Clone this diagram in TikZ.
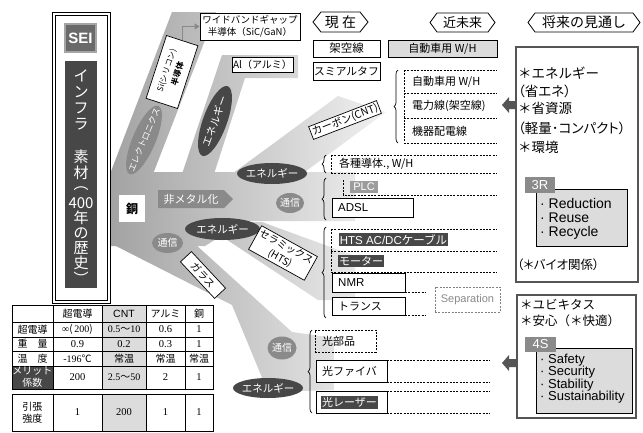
\documentclass[tikz,border=0pt]{standalone}
\usepackage{fontspec}
\setmainfont{Noto Sans CJK JP}
\newfontfamily\lat{Liberation Sans}
\newfontfamily\ser{Liberation Serif}
\newfontfamily\jpp[RawFeature=+palt]{Noto Sans CJK JP}
\usetikzlibrary{shapes.geometric,decorations.pathreplacing,arrows.meta}
\definecolor{dk}{HTML}{474747}
\definecolor{md}{HTML}{8A8A8A}
\definecolor{lg}{HTML}{9C9C9C}
\definecolor{gbox}{HTML}{DCDCDC}
\definecolor{bandA}{HTML}{A2A2A2}
\definecolor{bandM}{HTML}{CFCFCF}
\definecolor{bandB}{HTML}{F3F3F3}
\definecolor{frame}{HTML}{555555}
\definecolor{seiF}{HTML}{6A6A6A}
\definecolor{seiD}{HTML}{A5A5A5}
\newcommand\fsz[2]{\fontsize{#1}{#2}\selectfont}
\newcommand\bandfill[1]{\begin{scope}\clip #1;\shade[left color=bandA,middle color=bandM,right color=bandB] (108,0) rectangle (392,432);\end{scope}}
\tikzset{
 ovalshape/.style={ellipse, inner sep=0},
 ovaltext/.style={inner sep=0, text=white, font=\fsz{10.5}{12}},
 tagbox/.style={draw, fill=white, line width=0.7, inner sep=1.5, align=center},
 sbox/.style={draw, line width=0.8, fill=white, inner sep=0},
 txt/.style={inner sep=0, anchor=west, font=\fsz{11}{13}},
 dsh/.style={dash pattern=on 2pt off 1.3pt, line width=0.8},
 lbl/.style={inner sep=1.2, text=white, font=\fsz{11}{12}},
 brc/.style={decorate, decoration={brace, amplitude=4pt}, line width=0.7},
 vch/.style={inner sep=0, text=white, font=\fsz{15}{15}},
 cell/.style={inner sep=0, font=\fsz{10}{11.5}, align=center},
 num/.style={inner sep=0, font=\ser\fsz{10.5}{12}},
 hexl/.style={inner sep=0},
 tag/.style={text=white, inner sep=0},
}
\begin{document}
\begin{tikzpicture}[x=1pt,y=-1pt]
\fill[white] (0,0) rectangle (643,432);
\useasboundingbox (0,0) rectangle (643,432);

% ---------- gray tree ----------
\bandfill{(110,172) -- (355,172) -- (355,221) -- (245,221) -- (205,246) -- (110,246) -- cycle}
\bandfill{(110,174) -- (172,12) -- (216,12) -- (153,174) -- cycle}
\bandfill{(182,174) -- (222,55) -- (298,55) -- (298,78) -- (245,78) -- (214,174) -- cycle}
\bandfill{(232,174) -- (338,96) -- (386,112) -- (302,174) -- cycle}
\bandfill{(200,222) -- (262,222) -- (355,256) -- (355,300) -- (318,300) -- cycle}
\bandfill{(112,244) -- (195,244) -- (292,332) -- (334,338) -- (334,390) -- (268,392) -- (232,305) -- cycle}

% ---------- left panel ----------
\draw[line width=0.8] (52,12) rectangle (110,303);
\draw[line width=0.8] (55,15) rectangle (107,300);
\node[fill=seiF, draw=seiD, line width=2, minimum width=31, minimum height=28, inner sep=0, text=white, font=\lat\bfseries\fsz{15}{16}] (sei) at (80.5,38) {SEI};
\node[fill=dk, minimum width=32, minimum height=227, inner sep=0] (infra) at (81,174.5) {};
\foreach \c/\y [count=\i] in {イ/76,ン/92,フ/108,ラ/124,素/157,材/173,︵/189,400/203,年/218,の/233,歴/248,史/263,︶/278}
  \node[vch] (v\i) at (81,\y) {\c};

% ---------- branch labels ----------
\node[sbox, minimum width=100, minimum height=27, align=center, font=\fsz{9.5}{11.5}] (wb) at (250,26.5) {ワイドバンドギャップ\\半導体（SiC/GaN）};
\node[tagbox, rotate=72, font=\fsz{8}{11.5}, minimum width=66, minimum height=33] (si) at (172,72) {Si(シリコン)\\{\bfseries 半導体}};
\draw[md, line width=1.6, -{Triangle[length=5pt,width=6pt]}] (si.east) |- (wb.west);
\node[sbox, minimum width=61, minimum height=15, font=\fsz{10}{12}] (al) at (262.5,64.5) {Al（アルミ）};

\node[ovalshape, fill=md, rotate=67, minimum width=74, minimum height=23] (elec) at (144,140) {};
\node[ovaltext, rotate=67, font=\fsz{8.5}{10}] (elect) at (elec.center) {エレクトロニクス};
\node[ovalshape, fill=dk, rotate=70, minimum width=74, minimum height=24] (en1) at (215,121) {};
\node[ovaltext, rotate=70] (en1t) at (en1.center) {エネルギー};
\node[ovalshape, fill=dk, minimum width=70, minimum height=21] (en2) at (272,173.5) {};
\node[ovaltext] (en2t) at (en2.center) {エネルギー};
\node[ovalshape, fill=md, minimum width=28, minimum height=20] (tsu1) at (290,203) {};
\node[ovaltext, font=\fsz{10}{12}] (tsu1t) at (tsu1.center) {通信};
\fill[md] (158,190) -- (224,190) -- (233,199) -- (224,208) -- (158,208) -- cycle;
\node[lbl] (nonmetal) at (191,199) {非メタル化};
\node[fill=white, minimum width=26, minimum height=27, inner sep=0, font=\bfseries\fsz{12}{14}] (cu) at (132,208.5) {銅};
\node[ovalshape, fill=dk, minimum width=75, minimum height=22] (en3) at (222.5,229) {};
\node[ovaltext] (en3t) at (en3.center) {エネルギー};
\node[ovalshape, fill=md, minimum width=31, minimum height=20] (tsu2) at (167.5,243) {};
\node[ovaltext, font=\fsz{10}{12}] (tsu2t) at (tsu2.center) {通信};
\node[tagbox, rotate=21, font=\fsz{10.5}{12}] (cnt) at (345,120) {カーボン(CNT)};
\node[tagbox, rotate=-29, font=\fsz{10}{13}, inner sep=2] (cer) at (283,253) {セラミックス\\(HTS)};
\node[tagbox, rotate=-47, font=\fsz{10}{12}, minimum width=50, minimum height=15] (glass) at (203,275) {ガラス};
\node[ovalshape, fill=md, minimum width=29, minimum height=23] (tsu3) at (282,348) {};
\node[ovaltext, font=\fsz{10}{12}] (tsu3t) at (tsu3.center) {通信};
\node[ovalshape, fill=dk, minimum width=70, minimum height=20] (en4) at (268,388) {};
\node[ovaltext] (en4t) at (en4.center) {エネルギー};

% ---------- headers ----------
\draw[line width=0.8] (313,22) -- (321,12) -- (360,12) -- (368,22) -- (360,32) -- (321,32) -- cycle;
\node[hexl, font=\fsz{14}{16}] (now) at (340.5,22) {現 在};
\draw[line width=0.8] (430,22.5) -- (437,13) -- (488,13) -- (495,22.5) -- (488,32) -- (437,32) -- cycle;
\node[hexl, font=\fsz{13}{15}] (near) at (462.5,22.5) {近未来};
\draw[line width=0.8] (528,22.5) -- (535,13) -- (633,13) -- (640,22.5) -- (633,32) -- (535,32) -- cycle;
\node[hexl, font=\fsz{14}{16}] (future) at (584,22.5) {将来の見通し};

% ---------- present / near future rows ----------
\node[sbox, minimum width=67, minimum height=17, font=\fsz{11.5}{13}] (kaku) at (346.5,48.5) {架空線};
\node[sbox, fill=gbox, minimum width=109, minimum height=17, font=\fsz{11}{13}] (auto1) at (442.5,48.5) {自動車用 W/H};
\node[sbox, minimum width=67, minimum height=18, font=\fsz{10.8}{13}] (sumi) at (346.5,71) {スミアルタフ};

\draw[dsh] (404,70) -- (497,70) (404,93) -- (497,93) (404,118) -- (497,118) (404,143) -- (497,143) (404,70) -- (404,143);
\draw[brc] (398,143) -- (398,70);
\node[txt] (auto2) at (412,82) {自動車用 W/H};
\node[txt] (power) at (412,106) {電力線(架空線)};
\node[txt] (kiki) at (412,131) {機器配電線};

\draw[brc] (326,173) -- (326,155);
\draw[dsh] (331,155) -- (497,155) (331,173) -- (497,173) (331,155) -- (331,173);
\node[txt] (kakushu) at (339,164) {各種導体., W/H};

\draw[brc] (326,220) -- (326,178);
\draw[dsh] (343,180) -- (343,195) -- (497,195);
\node[fill=lg, tag, minimum width=28, minimum height=12, font=\lat\fsz{11}{12}] (plc) at (364,186.5) {PLC};
\node[sbox, minimum width=81, minimum height=19] (adsl) at (372.5,207.5) {};
\node[txt, font=\lat\fsz{11.5}{13}] (adslt) at (338,207.5) {ADSL};

\draw[brc] (326,318) -- (326,227);
\draw[dsh] (331,229) -- (497,229) (331,251) -- (497,251) (331,272) -- (497,272) (331,229) -- (331,273);
\node[fill=dk, lbl, font=\fsz{11.5}{13}] (hts) at (393.5,239.5) {{\lat HTS AC/DC}ケーブル};
\node[fill=dk, lbl] (motor) at (361,261) {モーター};
\node[sbox, minimum width=73, minimum height=19] (nmr) at (368.5,282.5) {};
\node[txt, font=\lat\fsz{11.5}{13}] (nmrt) at (338,282.5) {NMR};
\node[sbox, minimum width=73, minimum height=18] (trans) at (368.5,306) {};
\node[txt] (transt) at (338,306) {トランス};
\draw[dsh] (405,292) -- (425,292) (405,315) -- (425,315);
\node[draw=gray, dsh, minimum width=65, minimum height=25, text=md, font=\lat\fsz{11}{13}, inner sep=0] (sep) at (467.5,299.5) {Separation};

\draw[brc] (312,413) -- (312,330);
\node[draw, dsh, minimum width=61, minimum height=22, inner sep=0] (hikari) at (345.5,341) {};
\node[txt] (hikarit) at (322,341) {光部品};
\node[sbox, minimum width=71, minimum height=22] (fiber) at (351.5,371) {};
\node[txt] (fibert) at (322,371) {光ファイバ};
\draw[dsh] (387,360) -- (490,360) (387,382) -- (490,382);
\node[sbox, minimum width=71, minimum height=22] (laser) at (351.5,402) {};
\node[fill=dk, lbl] (lasert) at (349.5,402.5) {光レーザー};
\draw[dsh] (387,391) -- (490,391) (387,413) -- (490,413);

% ---------- future boxes ----------
\fill[frame] (502,105) -- (509,97) -- (509,101) -- (516,101) -- (516,109) -- (509,109) -- (509,113) -- cycle;
\draw[frame, line width=2.5] (516,47) rectangle (638,282);
\node[txt, font=\fsz{13.5}{15}] (b1a) at (518,73) {＊エネルギー};
\node[txt, font=\jpp\fsz{13.5}{15}] (b1b) at (518,91) {（省エネ）};
\node[txt, font=\fsz{13.5}{15}] (b1c) at (518,108) {＊省資源};
\node[txt, font=\jpp\fsz{13.5}{15}] (b1d) at (518,128) {（軽量･コンパクト）};
\node[txt, font=\fsz{13.5}{15}] (b1e) at (518,147) {＊環境};
\node[draw, fill=gbox, line width=0.8, minimum width=91, minimum height=57, inner sep=0] (r3box) at (581.5,217.5) {};
\node[fill=md, tag, minimum width=30, minimum height=16, font=\lat\fsz{13}{14}] (r3) at (540,185) {3R};
\node[txt, font=\lat\fsz{14}{15}] (red) at (540,203) {· Reduction};
\node[txt, font=\lat\fsz{14}{15}] (reuse) at (540,218) {· Reuse};
\node[txt, font=\lat\fsz{14}{15}] (recy) at (540,233) {· Recycle};
\node[txt, font=\jpp\fsz{12.5}{14}] (bio) at (517,265) {（＊バイオ関係）};

\fill[frame] (502,363) -- (509,355) -- (509,359) -- (517,359) -- (517,367) -- (509,367) -- (509,371) -- cycle;
\draw[frame, line width=2.5] (517,295) rectangle (636,418);
\node[txt, font=\fsz{12.5}{14}] (ubi) at (520,305) {＊ユビキタス};
\node[txt, font=\fsz{12.5}{14}] (anshin) at (520,321) {＊安心（＊快適）};
\node[draw, fill=gbox, line width=0.8, minimum width=96, minimum height=65, inner sep=0] (s4box) at (584,380.5) {};
\node[fill=md, tag, minimum width=31, minimum height=15, font=\lat\fsz{13}{14}] (s4) at (540.5,344.5) {4S};
\node[txt, font=\lat\fsz{13}{14}] (saf) at (540,360) {· Safety};
\node[txt, font=\lat\fsz{13}{14}] (sec) at (540,372.5) {· Security};
\node[txt, font=\lat\fsz{13}{14}] (sta) at (540,385) {· Stability};
\node[txt, font=\lat\fsz{13}{14}] (sus) at (540,397.5) {· Sustainability};

% ---------- table ----------
\fill[gbox] (102,305) rectangle (146,389);
\fill[gbox] (102,394) rectangle (146,431);
\fill[dk] (12,366) rectangle (53,389);
\draw[line width=0.6] (12,322) -- (213,322) (12,337) -- (213,337) (12,351) -- (213,351) (12,366) -- (213,366)
  (53,305) -- (53,389) (102,305) -- (102,389) (146,305) -- (146,389) (185,305) -- (185,389)
  (53,394) -- (53,431) (102,394) -- (102,431) (146,394) -- (146,431) (185,394) -- (185,431);
\draw[line width=1] (12,305) rectangle (213,389) (12,394) rectangle (213,431);
\node[cell] (h1) at (77.5,313.5) {超電導};
\node[cell, font=\lat\fsz{10.5}{12}] (h2) at (124,313.5) {CNT};
\node[cell] (h3) at (165.5,313.5) {アルミ};
\node[cell] (h4) at (199,313.5) {銅};
\node[cell] (r1) at (32.5,329.5) {超電導};
\node[cell] (c11) at (77.5,329.5) {{\ser ∞}(\,{\ser 200})};
\node[cell] (c12) at (124,329.5) {{\ser 0.5}～{\ser 10}};
\node[num] (c13) at (165.5,329.5) {0.6};
\node[num] (c14) at (199,329.5) {1};
\node[cell] (r2) at (32.5,344) {重　量};
\node[num] (c21) at (77.5,344) {0.9};
\node[num] (c22) at (124,344) {0.2};
\node[num] (c23) at (165.5,344) {0.3};
\node[num] (c24) at (199,344) {1};
\node[cell] (r3c) at (32.5,358.5) {温　度};
\node[cell] (c31) at (77.5,358.5) {{\ser -196}℃};
\node[cell] (c32) at (124,358.5) {常温};
\node[cell] (c33) at (165.5,358.5) {常温};
\node[cell] (c34) at (199,358.5) {常温};
\node[cell, text=white, font=\fsz{10}{12}] (r4) at (32.5,377.5) {メリット\\係数};
\node[num] (c41) at (77.5,377.5) {200};
\node[cell] (c42) at (124,377.5) {{\ser 2.5}～{\ser 50}};
\node[num] (c43) at (165.5,377.5) {2};
\node[num] (c44) at (199,377.5) {1};
\node[cell, font=\fsz{10}{12}] (r5) at (32.5,412.5) {引張\\強度};
\node[num] (c51) at (77.5,412.5) {1};
\node[num] (c52) at (124,412.5) {200};
\node[num] (c53) at (165.5,412.5) {1};
\node[num] (c54) at (199,412.5) {1};
\end{tikzpicture}
\end{document}
